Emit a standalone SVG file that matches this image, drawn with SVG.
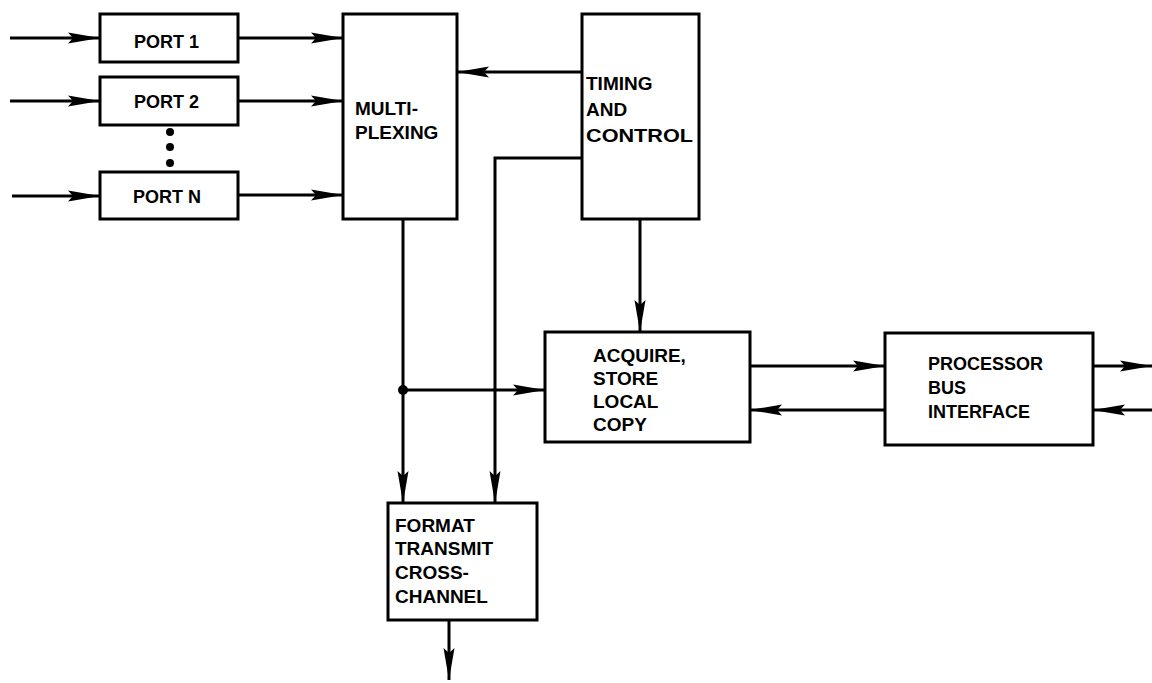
<svg xmlns="http://www.w3.org/2000/svg" width="1152" height="683" viewBox="0 0 1152 683">
<defs>
<marker id="ah" viewBox="0 0 32 12" refX="32" refY="6" markerWidth="32" markerHeight="12" markerUnits="userSpaceOnUse" orient="auto">
<path d="M0,0.5 L32,6 L0,11.5 L5,6 Z" fill="#000"/>
</marker>
<style>
.box{fill:#fff;stroke:#000;stroke-width:3}
.ln{fill:none;stroke:#000;stroke-width:3}
.ar{fill:none;stroke:#000;stroke-width:3;marker-end:url(#ah)}
.t{font-family:"Liberation Sans",Arial,sans-serif;font-weight:bold;font-size:19px;fill:#000}
.s{font-size:18px}
</style>
</defs>
<rect width="1152" height="683" fill="#fff"/>
<g id="connectors">
<line class="ar" x1="10" y1="38" x2="100" y2="38"/>
<line class="ar" x1="10" y1="101" x2="100" y2="101"/>
<line class="ar" x1="12" y1="196" x2="100" y2="196"/>
<line class="ar" x1="238" y1="38" x2="343" y2="38"/>
<line class="ar" x1="238" y1="101" x2="343" y2="101"/>
<line class="ar" x1="238" y1="195" x2="343" y2="195"/>
<line class="ar" x1="582" y1="72" x2="457" y2="72"/>
<line class="ar" x1="403" y1="219" x2="403" y2="503"/>
<polyline class="ar" points="582,158 495,158 495,503"/>
<line class="ar" x1="403" y1="390" x2="545" y2="390"/>
<circle cx="403" cy="390" r="5" fill="#000"/>
<line class="ar" x1="640" y1="219" x2="640" y2="332"/>
<line class="ar" x1="750" y1="366" x2="885" y2="366"/>
<line class="ar" x1="885" y1="410" x2="750" y2="410"/>
<line class="ar" x1="1093" y1="366" x2="1152" y2="366"/>
<line class="ar" x1="1152" y1="410" x2="1093" y2="410"/>
<line class="ar" x1="449" y1="620" x2="449" y2="680"/>
<circle cx="170" cy="132" r="4" fill="#000"/>
<circle cx="170" cy="147" r="4" fill="#000"/>
<circle cx="170" cy="163" r="4" fill="#000"/>
</g>
<g id="port1"><rect class="box" x="100" y="14" width="138" height="48"/><text class="t s" x="134" y="48">PORT 1</text></g>
<g id="port2"><rect class="box" x="100" y="77" width="138" height="48"/><text class="t s" x="134" y="108">PORT 2</text></g>
<g id="portn"><rect class="box" x="100" y="172" width="138" height="47"/><text class="t s" x="133" y="203">PORT N</text></g>
<g id="mux"><rect class="box" x="343" y="14" width="114" height="205"/><text class="t" x="355" y="115">MULTI-</text><text class="t" x="355" y="139">PLEXING</text></g>
<g id="timing"><rect class="box" x="582" y="14" width="117" height="205"/><text class="t" x="586" y="90">TIMING</text><text class="t" x="586" y="116">AND</text><text class="t" x="586" y="142" textLength="107" lengthAdjust="spacingAndGlyphs">CONTROL</text></g>
<g id="acquire"><rect class="box" x="545" y="332" width="205" height="110"/><text class="t" x="593" y="362">ACQUIRE,</text><text class="t" x="593" y="385">STORE</text><text class="t" x="593" y="408">LOCAL</text><text class="t" x="593" y="431">COPY</text></g>
<g id="processor"><rect class="box" x="885" y="333" width="208" height="112"/><text class="t s" x="928" y="370">PROCESSOR</text><text class="t s" x="928" y="394">BUS</text><text class="t s" x="928" y="418">INTERFACE</text></g>
<g id="format"><rect class="box" x="388" y="503" width="149" height="117"/><text class="t" x="395" y="532">FORMAT</text><text class="t" x="395" y="555">TRANSMIT</text><text class="t" x="395" y="579">CROSS-</text><text class="t" x="395" y="603">CHANNEL</text></g>
</svg>
